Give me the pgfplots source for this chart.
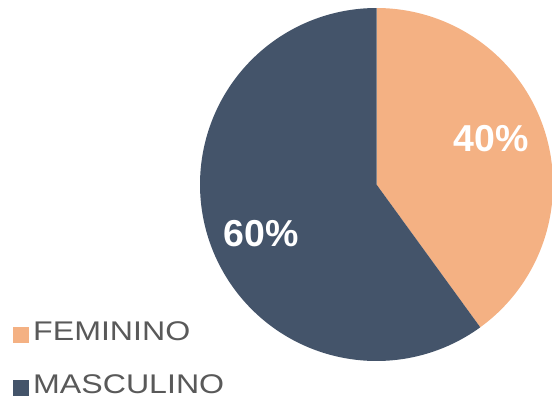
\documentclass[border=0pt]{standalone}
\usepackage{pgfplots}
\pgfplotsset{compat=1.18}
\usepackage{fontspec}
\setmainfont{Liberation Sans}
\newfontfamily\legfont[FakeStretch=1.19]{Liberation Sans}
\definecolor{fem}{HTML}{F4B183}
\definecolor{masc}{HTML}{44546A}
\definecolor{txt}{HTML}{595959}
\begin{document}
\begin{tikzpicture}
\def\fem{40}\def\masc{60}
\pgfmathsetmacro\aA{90-3.6*\fem}
\pgfmathsetmacro\aB{\aA-3.6*\masc}
\begin{axis}[width=552pt,height=400pt,scale only axis,
  xmin=0,xmax=552,ymin=0,ymax=400,hide axis,clip=true,
  legend cell align=left,
  legend style={at={(axis cs:13,3)},anchor=south west,draw=none,fill=none,
    font=\legfont\fontsize{27}{30}\selectfont\color{txt},
    row sep=28pt,inner sep=0pt,nodes={inner xsep=4pt}},
  legend image code/.code={\fill[#1] (0pt,-11pt) rectangle (16pt,5pt);}]
\addplot[fill=fem,draw=none,domain=\aA:90,samples=120]
  ({376.5+176.5*cos(x)},{215.5+176.5*sin(x)}) -- (axis cs:376.5,215.5) -- cycle;
\addlegendentry{FEMININO}
\addplot[fill=masc,draw=none,domain=\aB:\aA,samples=200]
  ({376.5+176.5*cos(x)},{215.5+176.5*sin(x)}) -- (axis cs:376.5,215.5) -- cycle;
\addlegendentry{MASCULINO}
\node[font=\bfseries\fontsize{37.5}{40}\selectfont,text=white] at (axis cs:491.5,261.3) {40\%};
\node[font=\bfseries\fontsize{37.5}{40}\selectfont,text=white] at (axis cs:261.5,166.3) {60\%};
\end{axis}
\pgfresetboundingbox
\path (current axis.south west) rectangle (current axis.north east);
\end{tikzpicture}
\end{document}
